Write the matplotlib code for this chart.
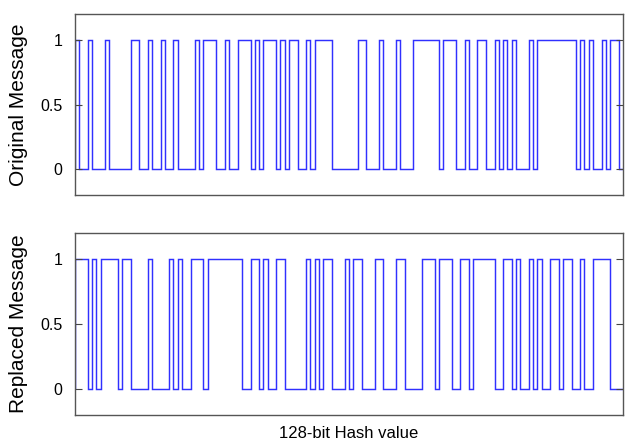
import numpy as np
import matplotlib.pyplot as plt

# 128-bit hash, original message
original_bits = [
    1, 0, 0, 1, 0, 0, 0, 1, 0, 0, 0, 0, 0, 1, 1, 0,
    0, 1, 0, 0, 1, 0, 0, 1, 0, 0, 0, 0, 1, 0, 1, 1,
    1, 0, 0, 1, 0, 0, 1, 1, 1, 0, 1, 0, 1, 1, 1, 0,
    1, 0, 1, 1, 0, 0, 1, 0, 1, 1, 1, 1, 0, 0, 0, 0,
    0, 0, 1, 1, 0, 0, 0, 1, 0, 0, 0, 1, 0, 0, 0, 1,
    1, 1, 1, 1, 1, 0, 1, 1, 1, 0, 0, 1, 0, 0, 1, 1,
    0, 0, 1, 0, 1, 0, 1, 0, 0, 0, 1, 0, 1, 1, 1, 1,
    1, 1, 1, 1, 1, 0, 1, 0, 1, 0, 0, 1, 0, 1, 1, 0,
]

# 128-bit hash, replaced message
replaced_bits = [
    1, 1, 1, 0, 1, 0, 1, 1, 1, 1, 0, 1, 1, 0, 0, 0,
    0, 1, 0, 0, 0, 0, 1, 0, 1, 0, 0, 1, 1, 1, 0, 1,
    1, 1, 1, 1, 1, 1, 1, 0, 0, 1, 1, 0, 1, 0, 0, 1,
    1, 0, 0, 0, 0, 0, 1, 0, 1, 0, 1, 1, 0, 0, 0, 1,
    0, 1, 1, 0, 0, 0, 1, 1, 0, 0, 0, 1, 1, 0, 0, 0,
    0, 1, 1, 1, 0, 1, 1, 1, 0, 0, 1, 1, 0, 1, 1, 1,
    1, 1, 0, 0, 1, 1, 0, 1, 0, 0, 1, 0, 1, 0, 0, 1,
    1, 0, 1, 1, 0, 0, 1, 0, 0, 1, 1, 1, 1, 0, 0, 0,
]

ylabels = ['Original Message', 'Replaced Message']
yticks = [0, 0.5, 1]
ytick_labels = ['0', '0.5', '1']

plt.rcParams['font.family'] = ['Liberation Sans', 'DejaVu Sans']

fig = plt.figure(figsize=(6.28, 4.44), dpi=100)
ax1 = fig.add_axes([0.1194, 0.561, 0.8726, 0.407])
ax2 = fig.add_axes([0.1194, 0.0653, 0.8726, 0.4097])

for ax, bits, lab in zip([ax1, ax2], [original_bits, replaced_bits], ylabels):
    edges = np.arange(len(bits) + 1)
    ax.stairs(bits, edges, baseline=0, color='#3030ff', lw=1.05)
    ax.set_xlim(0, len(bits))
    ax.set_ylim(-0.2, 1.2)
    ax.set_xticks([])
    ax.set_yticks(yticks)
    ax.set_yticklabels(ytick_labels, fontsize=11.5)
    ax.tick_params(axis='y', direction='in', right=True, length=5, color='#444444', pad=9)
    for s in ax.spines.values():
        s.set_color('#555555')
        s.set_linewidth(1.0)
    ax.set_ylabel(lab, fontsize=15, labelpad=9)

ax2.set_xlabel('128-bit Hash value', fontsize=12, labelpad=8)

fig.savefig('out.png', dpi=100)
